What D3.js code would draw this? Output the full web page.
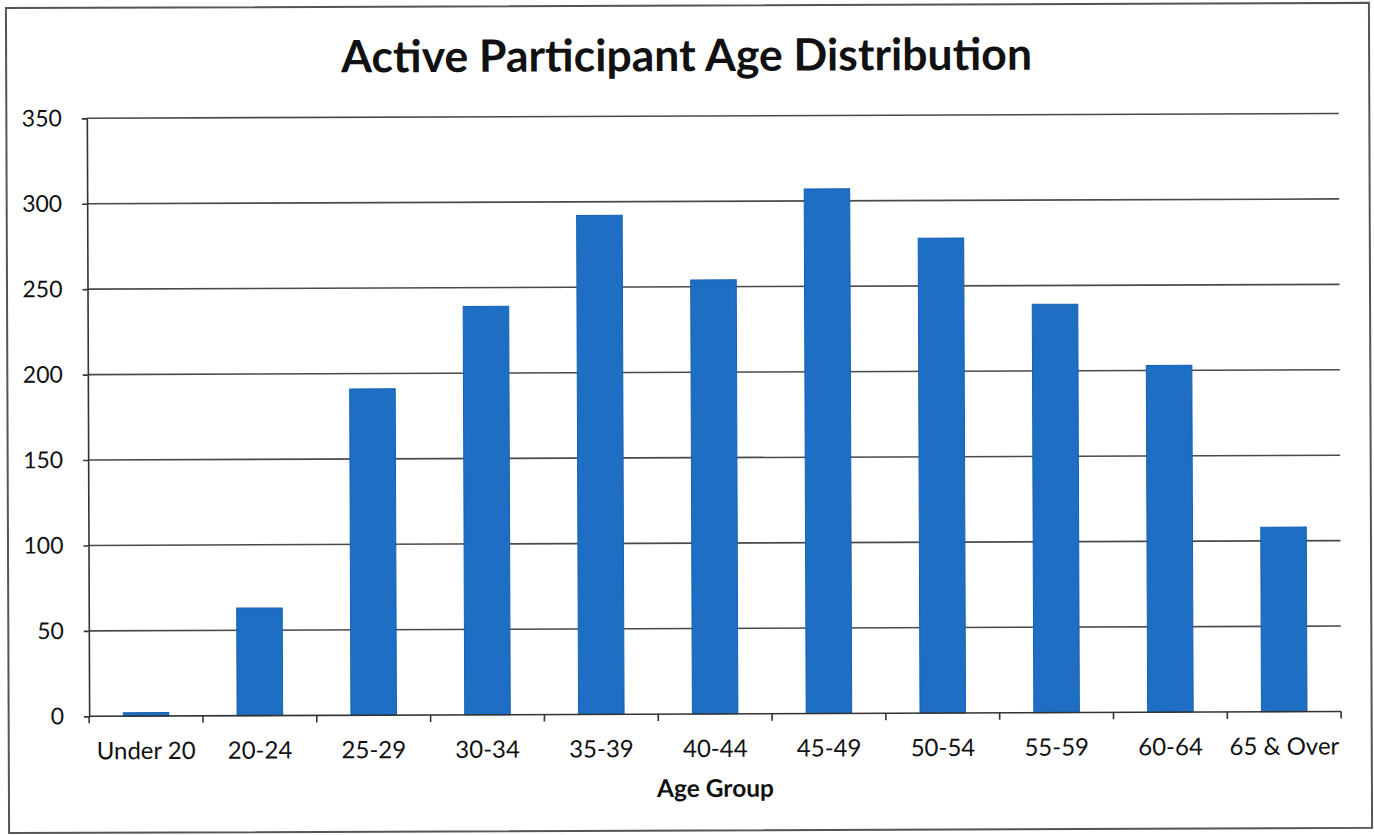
<!DOCTYPE html>
<html>
<head>
<meta charset="utf-8">
<script src="https://cdn.jsdelivr.net/npm/d3@7"></script>
<style>
  html, body { margin: 0; padding: 0; background: #fff; }
  svg { display: block; }
  text { font-family: Lato, "Open Sans", sans-serif; fill: #111; }
</style>
</head>
<body>
<svg id="chart" width="1374" height="835"></svg>
<script>
// Active participants by age group
const ageGroups = ["Under 20", "20-24", "25-29", "30-34", "35-39", "40-44",
                   "45-49", "50-54", "55-59", "60-64", "65 & Over"];
const participants = [2, 63, 191, 239, 292, 254, 307, 278, 239, 203, 108];
const yTicks = [0, 50, 100, 150, 200, 250, 300, 350];

const W = 1374, H = 835;
const margin = { left: 88, right: 34, top: 116, bottom: 121 };
const plotW = W - margin.left - margin.right;
const plotH = H - margin.top - margin.bottom;

const svg = d3.select("#chart");
// whole page sits at a very slight tilt
const root = svg.append("g").attr("transform", `rotate(-0.22, ${W / 2}, ${H / 2})`);

// outer frame
root.append("rect")
  .attr("x", 7.5).attr("y", 5.5)
  .attr("width", 1363).attr("height", 825)
  .attr("fill", "none").attr("stroke", "#555").attr("stroke-width", 2);

// title
root.append("text")
  .attr("x", 688).attr("y", 71)
  .attr("text-anchor", "middle")
  .attr("font-size", 44.5).attr("font-weight", 700)
  .text("Active Participant Age Distribution");

const g = root.append("g").attr("transform", `translate(${margin.left},${margin.top})`);

const x = d3.scaleBand().domain(ageGroups).range([0, plotW]).paddingInner(0.6).paddingOuter(0.3);
const y = d3.scaleLinear().domain([0, 350]).range([plotH, 0]);

// horizontal gridlines
g.append("g")
  .selectAll("line")
  .data(yTicks.filter(v => v > 0))
  .join("line")
  .attr("x1", 0).attr("x2", plotW)
  .attr("y1", d => y(d)).attr("y2", d => y(d))
  .attr("stroke", "#4a4a4a").attr("stroke-width", 1.6);

// bars
g.append("g")
  .selectAll("rect")
  .data(participants)
  .join("rect")
  .attr("x", (d, i) => x(ageGroups[i]))
  .attr("y", d => y(d))
  .attr("width", x.bandwidth())
  .attr("height", d => plotH - y(d))
  .attr("fill", "#1e6fc4")
  .attr("stroke", "#1660b2").attr("stroke-width", 1);

// y axis
const yAxis = g.append("g")
  .call(d3.axisLeft(y).tickValues(yTicks).tickSize(5).tickPadding(20).tickFormat(d3.format("d")));
yAxis.select(".domain").attr("stroke", "#333").attr("stroke-width", 1.6);
yAxis.selectAll(".tick line").attr("stroke", "#333").attr("stroke-width", 1.6);
yAxis.selectAll(".tick text").attr("font-size", 23).attr("fill", "#111")
  .style("font-family", "Lato, sans-serif");

// x axis: tick marks at category boundaries, labels centred in each band
const xBound = d3.scaleLinear().domain([0, ageGroups.length]).range([0, plotW]);
const xa = g.append("g").attr("transform", `translate(0,${plotH})`);
xa.append("line").attr("x1", 0).attr("x2", plotW)
  .attr("stroke", "#333").attr("stroke-width", 1.6);
xa.selectAll("line.bound")
  .data(d3.range(ageGroups.length + 1))
  .join("line").attr("class", "bound")
  .attr("x1", d => xBound(d)).attr("x2", d => xBound(d))
  .attr("y1", 0).attr("y2", 7)
  .attr("stroke", "#333").attr("stroke-width", 1.6);
xa.selectAll("text")
  .data(ageGroups)
  .join("text")
  .attr("x", d => x(d) + x.bandwidth() / 2)
  .attr("y", 43)
  .attr("text-anchor", "middle")
  .attr("font-size", 24)
  .text(d => d);

// x axis title
root.append("text")
  .attr("x", margin.left + plotW / 2).attr("y", 797)
  .attr("text-anchor", "middle")
  .attr("font-size", 24.5).attr("font-weight", 700)
  .text("Age Group");
</script>
</body>
</html>
